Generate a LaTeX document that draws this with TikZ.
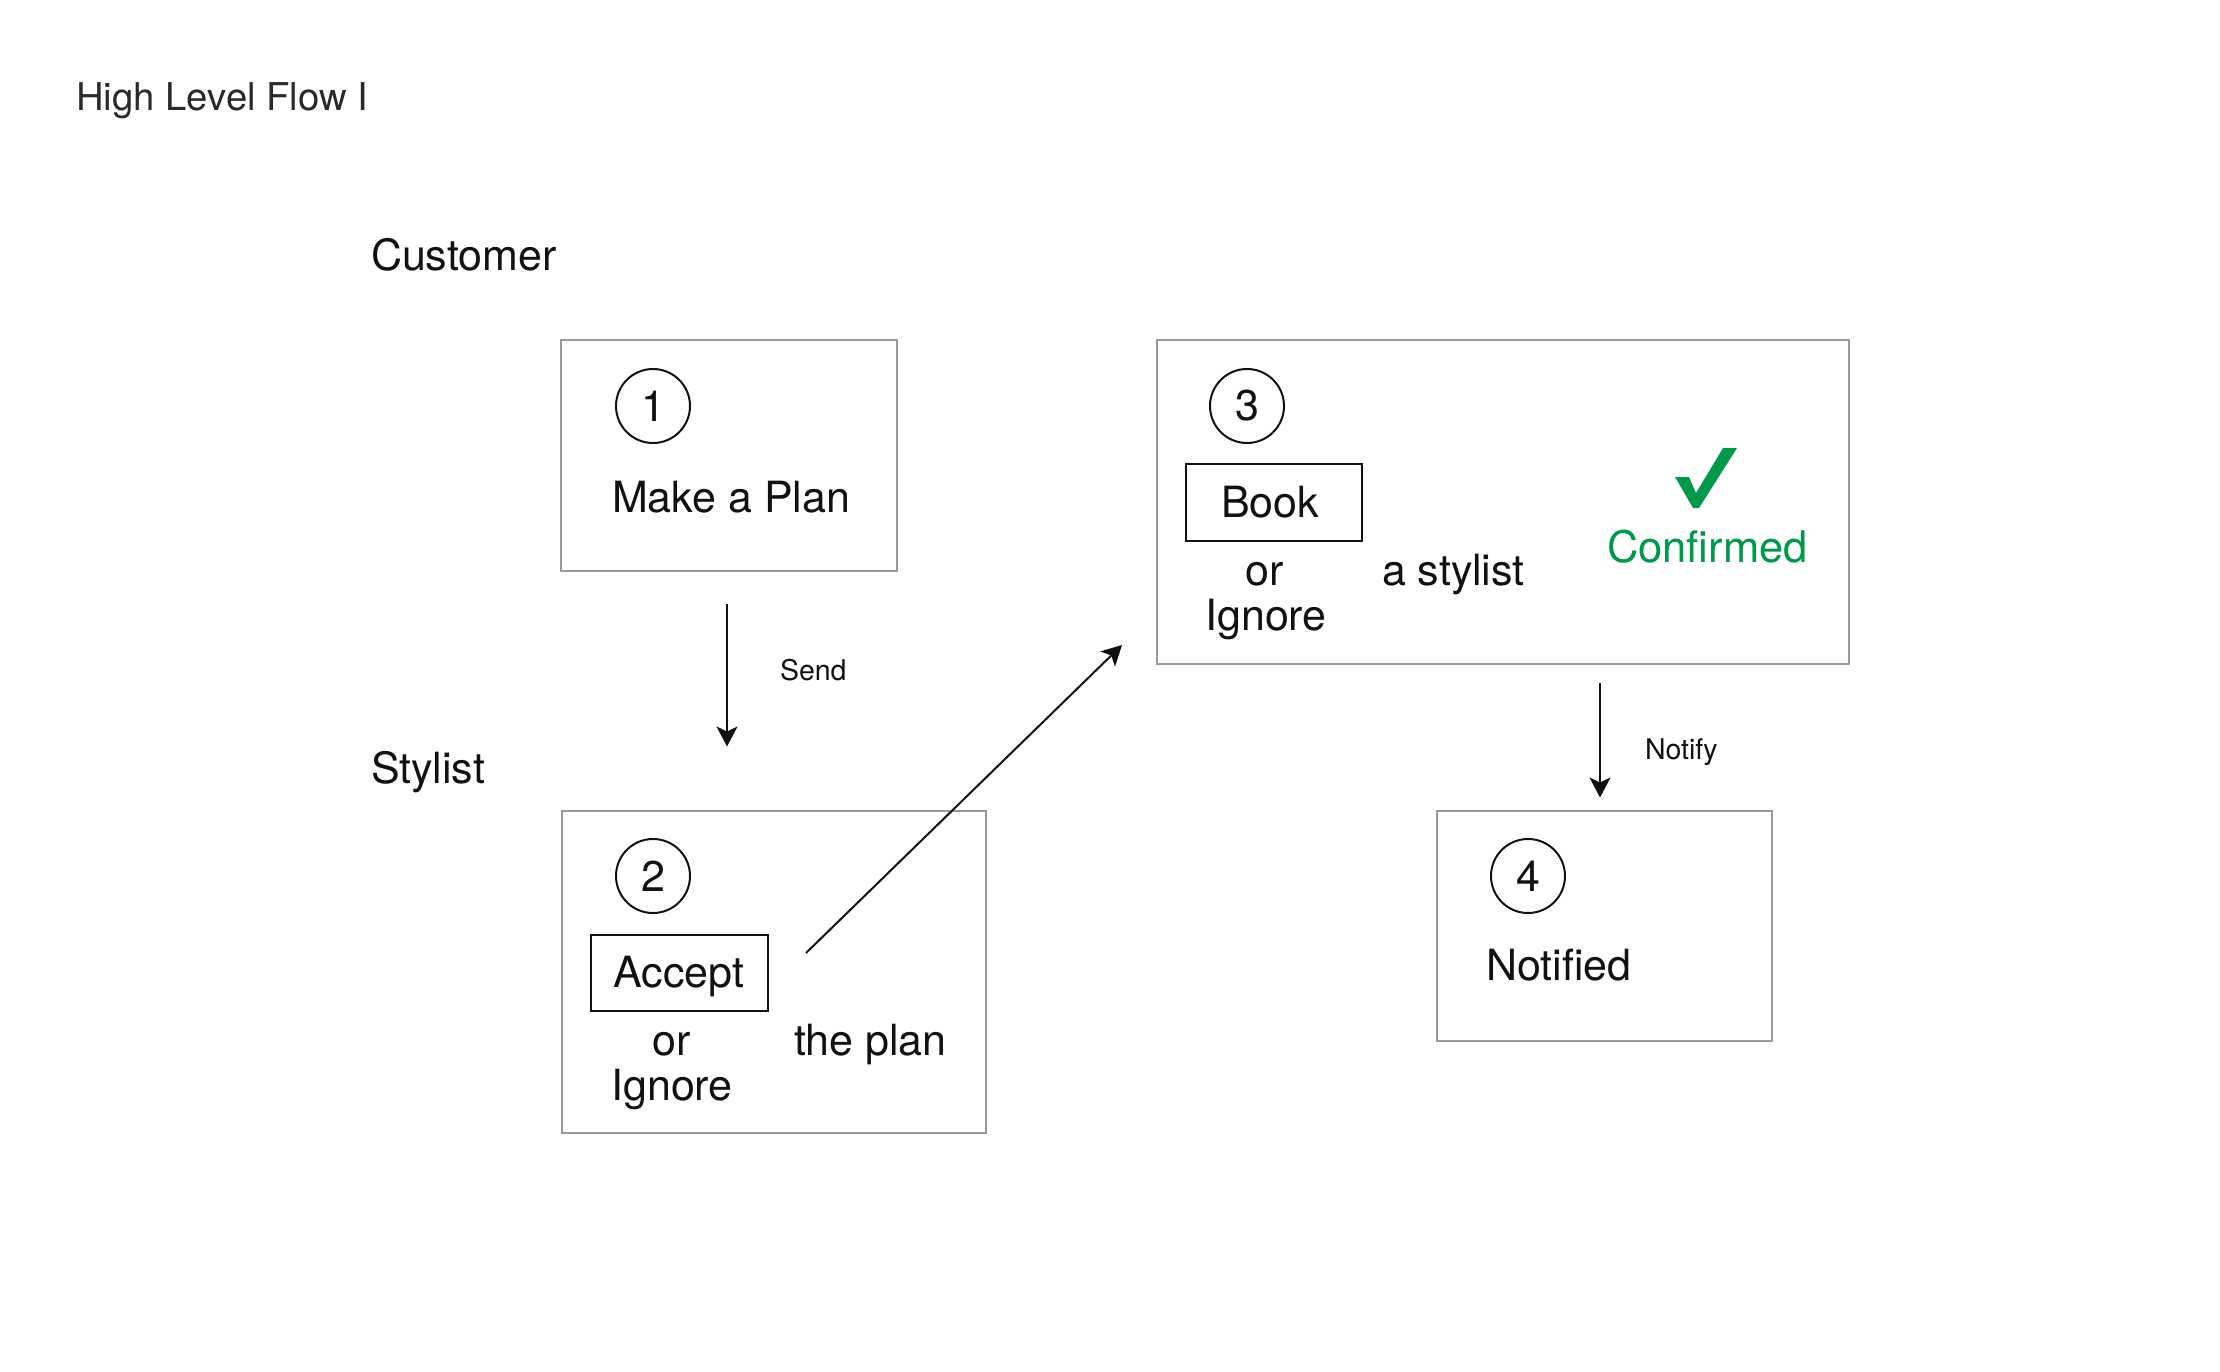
\documentclass[tikz,border=0pt]{standalone}
\usepackage{fontspec}
\setmainfont{TeX Gyre Heros}
\usetikzlibrary{arrows.meta,calc}
\definecolor{boxgray}{HTML}{9A9A9A}
\definecolor{ink}{HTML}{111111}
\definecolor{titleink}{HTML}{2A2A2A}
\definecolor{okgreen}{HTML}{00984A}
\begin{document}
\begin{tikzpicture}[x=1pt,y=-1pt,
  txt/.style={inner sep=0pt,outer sep=0pt,text=ink,font=\fontsize{43}{50}\selectfont},
  small/.style={inner sep=0pt,outer sep=0pt,text=ink,font=\fontsize{28.5}{34}\selectfont},
  stepbox/.style={draw=boxgray,line width=2pt,rectangle,inner sep=0pt},
  choicebox/.style={draw=ink,line width=2pt,rectangle,inner sep=0pt},
  numcircle/.style={draw=ink,line width=2pt,circle,minimum size=74pt,inner sep=0pt,text=ink,font=\fontsize{43}{50}\selectfont},
  arr/.style={draw=ink,line width=2pt,-{Stealth[length=20pt,width=21pt,inset=5pt]}}
]
\useasboundingbox[fill=white] (0,0) rectangle (2220,1372);

% title and lanes
\node[inner sep=0pt,text=titleink,font=\fontsize{38.3}{44}\selectfont,anchor=base west] (title) at (76,111) {High Level Flow I};
\node[txt,anchor=base west] (customer) at (371,271) {Customer};
\node[txt,anchor=base west] (stylist) at (371,783) {Stylist};

% step boxes
\node[stepbox,minimum width=336pt,minimum height=231pt] (box1) at (729,455.5) {};
\node[stepbox,minimum width=424pt,minimum height=322pt] (box2) at (773.5,971.5) {};
\node[stepbox,minimum width=692pt,minimum height=324pt] (box3) at (1503,502) {};
\node[stepbox,minimum width=335pt,minimum height=230pt] (box4) at (1604,925.5) {};

% step 1
\node[numcircle] (c1) at (653,406) {1};
\node[txt,anchor=base west] (make) at (612,512) {Make a Plan};

% step 2
\node[numcircle] (c2) at (653,876) {2};
\node[choicebox,minimum width=177pt,minimum height=76pt] (accept) at (679.5,973) {};
\node[txt,anchor=base] (accepttxt) at (679,987) {Accept};
\node[txt,anchor=base] (or2) at (672,1055) {or};
\node[txt,anchor=base] (ignore2) at (672,1100) {Ignore};
\node[txt,anchor=base west] (plan) at (794,1055) {the plan};

% step 3
\node[numcircle] (c3) at (1247,406) {3};
\node[choicebox,minimum width=176pt,minimum height=77pt] (book) at (1274,502.5) {};
\node[txt,anchor=base] (booktxt) at (1270,517) {Book};
\node[txt,anchor=base] (or3) at (1265,585) {or};
\node[txt,anchor=base] (ignore3) at (1266,630) {Ignore};
\node[txt,anchor=base west] (astylist) at (1382,585) {a stylist};
\fill[okgreen] (1675,477) -- (1689,477) -- (1696,493) -- (1723,448) -- (1737,448) -- (1699,508) -- (1693,508) -- cycle;
\node[inner sep=0pt,text=okgreen,font=\fontsize{43.5}{50}\selectfont,anchor=base west] (confirmed) at (1607,562) {Confirmed};

% step 4
\node[numcircle] (c4) at (1528,876) {4};
\node[txt,anchor=base west] (notified) at (1486,980) {Notified};

% connectors
\draw[arr] ($(box1.south)+(-2,32)$) -- ($(box2.north)+(-46.5,-63)$);
\node[small,anchor=base west] (send) at (780,680) {Send};
\draw[arr] ($(accept.east)+(37,-20)$) -- ($(box3.south west)+(-34,-20)$);
\draw[arr] ($(box3.south)+(97,18)$) -- ($(box4.north)+(-4,-12)$);
\node[small,anchor=base west] (notify) at (1645,759) {Notify};
\end{tikzpicture}
\end{document}
